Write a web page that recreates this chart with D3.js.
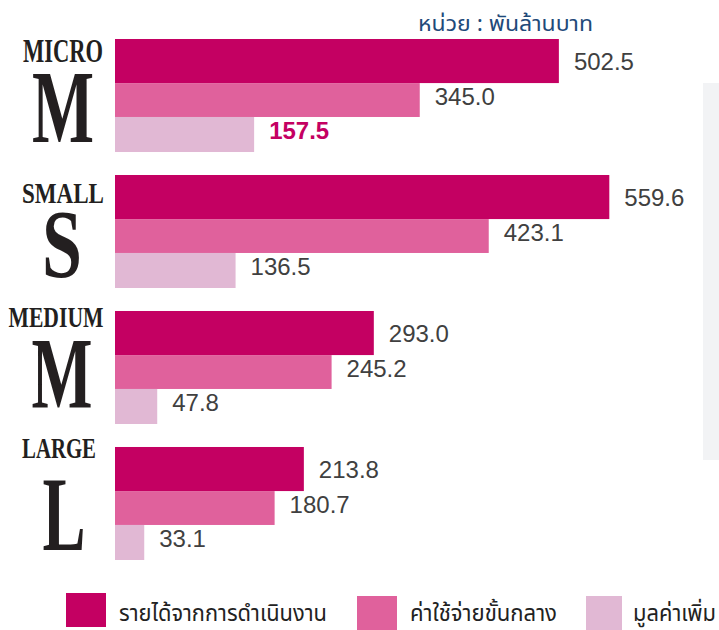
<!DOCTYPE html>
<html>
<head>
<meta charset="utf-8">
<script src="https://cdn.jsdelivr.net/npm/d3@7"></script>
<style>
  body { margin: 0; background: #fff; }
  .value { font-family: "Liberation Sans", Arial, sans-serif; font-size: 24px; fill: #404040; }
  .thai { font-family: "Noto Sans Thai", "Noto Sans", "DejaVu Sans", sans-serif; }
  .word, .letter { font-family: "Liberation Serif", "DejaVu Serif", serif; fill: #231f20; font-weight: bold; }
</style>
</head>
<body>
<div id="main"></div>
<script>
// data
const groups = ["MICRO", "SMALL", "MEDIUM", "LARGE"];
const letters = ["M", "S", "M", "L"];
const seriesNames = ["รายได้จากการดำเนินงาน", "ค่าใช้จ่ายขั้นกลาง", "มูลค่าเพิ่ม"];
const revenue = [502.5, 559.6, 293.0, 213.8];
const intermediate = [345.0, 423.1, 245.2, 180.7];
const valueAdded = [157.5, 136.5, 47.8, 33.1];
const unitLabel = "หน่วย : พันล้านบาท";

// dimensions
const svg_width = 719,
    svg_height = 630;

const colors = ["#c40062", "#e0619c", "#e1b8d4"];

// set up svg
var svg = d3.select("#main").append("svg")
    .attr("width", svg_width)
    .attr("height", svg_height);

// faint strip at right edge
svg.append("rect")
    .attr("x", 703).attr("y", 83)
    .attr("width", 16).attr("height", 377)
    .attr("fill", "#f2f3f5");

// scales
var yScale = d3.scaleBand()
    .domain(groups)
    .range([39, 560])
    .paddingInner(0.169)
    .paddingOuter(0);

var xScale = d3.scaleLinear()
    .domain([0, 600])
    .range([115, 645]);

// sub bar layout inside each band (first bar taller)
var bw = yScale.bandwidth();
var subH = [bw * 0.39, bw * 0.30, bw * 0.31];
var subY = [0, subH[0], subH[0] + subH[1]];
var labelDy = [9, 5, 5];

var table = groups.map(function(g, i) {
    return {group: g, letter: letters[i], values: [revenue[i], intermediate[i], valueAdded[i]]};
});

var rows = table.flatMap(function(d) {
    return d.values.map(function(v, s) { return {group: d.group, series: s, value: v}; });
});

// bars
svg.selectAll(".bar")
    .data(rows)
    .enter()
    .append("rect")
    .attr("class", "bar")
    .attr("x", xScale(0))
    .attr("y", function(d) { return yScale(d.group) + subY[d.series]; })
    .attr("width", function(d) { return xScale(d.value) - xScale(0); })
    .attr("height", function(d) { return subH[d.series]; })
    .attr("fill", function(d) { return colors[d.series]; });

// value labels
var fmt = d3.format(".1f");
svg.selectAll(".value")
    .data(rows)
    .enter()
    .append("text")
    .attr("class", "value")
    .attr("x", function(d) { return xScale(d.value) + 15; })
    .attr("y", function(d) { return yScale(d.group) + subY[d.series] + subH[d.series] / 2 + labelDy[d.series]; })
    .style("font-weight", function(d) { return d.group === "MICRO" && d.series === 2 ? "bold" : null; })
    .style("fill", function(d) { return d.group === "MICRO" && d.series === 2 ? colors[0] : null; })
    .text(function(d) { return fmt(d.value); });

// group labels (condensed serif)
var wordStyle = {
    MICRO:  {dy: 23, cx: 63, w: 80, size: 34},
    SMALL:  {dy: 28, cx: 63, w: 82, size: 30},
    MEDIUM: {dy: 16, cx: 56, w: 95, size: 29},
    LARGE:  {dy: 11, cx: 59, w: 74, size: 30}
};
var letterStyle = {
    MICRO:  {dy: 103, cx: 63, w: 62, size: 104},
    SMALL:  {dy: 102, cx: 62, w: 40, size: 98},
    MEDIUM: {dy: 97, cx: 62, w: 61, size: 101},
    LARGE:  {dy: 103, cx: 64, w: 43, size: 105}
};

svg.selectAll(".word")
    .data(table)
    .enter()
    .append("text")
    .attr("class", "word")
    .attr("x", function(d) { return wordStyle[d.group].cx - wordStyle[d.group].w / 2; })
    .attr("y", function(d) { return yScale(d.group) + wordStyle[d.group].dy; })
    .attr("textLength", function(d) { return wordStyle[d.group].w; })
    .attr("lengthAdjust", "spacingAndGlyphs")
    .style("font-size", function(d) { return wordStyle[d.group].size + "px"; })
    .text(function(d) { return d.group; });

svg.selectAll(".letter")
    .data(table)
    .enter()
    .append("text")
    .attr("class", "letter")
    .attr("x", function(d) { return letterStyle[d.group].cx - letterStyle[d.group].w / 2; })
    .attr("y", function(d) { return yScale(d.group) + letterStyle[d.group].dy; })
    .attr("textLength", function(d) { return letterStyle[d.group].w; })
    .attr("lengthAdjust", "spacingAndGlyphs")
    .style("font-size", function(d) { return letterStyle[d.group].size + "px"; })
    .text(function(d) { return d.letter; });

// unit label
svg.append("text")
    .attr("class", "thai")
    .attr("x", 418)
    .attr("y", 31)
    .attr("textLength", 175)
    .attr("lengthAdjust", "spacingAndGlyphs")
    .style("font-size", "21px")
    .style("fill", "#1f4a7a")
    .text(unitLabel);

// legend
var legendPos = [
    {x: 66, y: 593, w: 40, tx: 119, tw: 208},
    {x: 357, y: 596, w: 40, tx: 410, tw: 147},
    {x: 586, y: 596, w: 36, tx: 633, tw: 83}
];
var legend = svg.selectAll(".legend")
    .data(seriesNames)
    .enter()
    .append("g")
    .attr("class", "legend");
legend.append("rect")
    .attr("x", function(d, i) { return legendPos[i].x; })
    .attr("y", function(d, i) { return legendPos[i].y; })
    .attr("width", function(d, i) { return legendPos[i].w; })
    .attr("height", 34)
    .attr("fill", function(d, i) { return colors[i]; });
legend.append("text")
    .attr("class", "thai")
    .attr("x", function(d, i) { return legendPos[i].tx; })
    .attr("y", 621)
    .attr("textLength", function(d, i) { return legendPos[i].tw; })
    .attr("lengthAdjust", "spacingAndGlyphs")
    .style("font-size", "23px")
    .style("fill", "#222")
    .text(function(d) { return d; });
</script>
</body>
</html>
